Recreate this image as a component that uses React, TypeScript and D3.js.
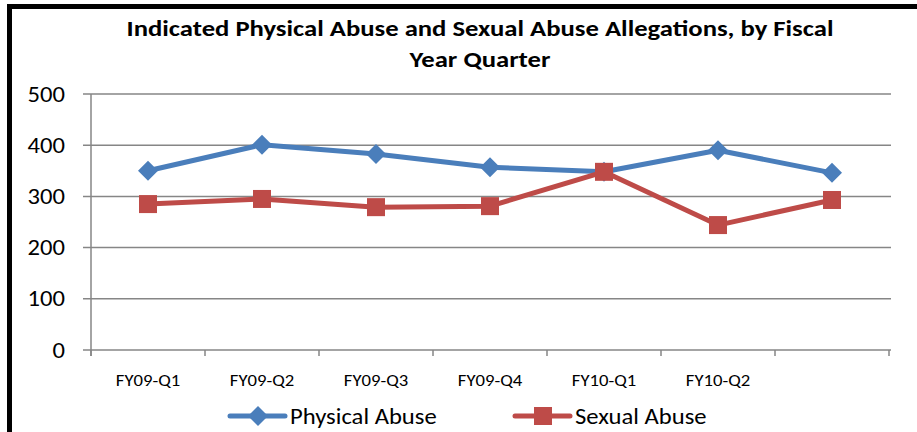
import React, { useEffect, useRef } from "react";
import * as d3 from "d3";

const categories = ["FY09-Q1", "FY09-Q2", "FY09-Q3", "FY09-Q4", "FY10-Q1", "FY10-Q2", ""];
const physicalAbuse = [350, 401, 383, 357, 348, 390, 346];
const sexualAbuse = [285, 295, 279, 281, 348, 244, 293];
const yTicks = [0, 100, 200, 300, 400, 500];
const titleLines = ["Indicated Physical Abuse and Sexual Abuse Allegations, by Fiscal", "Year Quarter"];

const FONT = "Carlito, Calibri, 'Open Sans', sans-serif";

const App = () => {
    const ref = useRef<SVGSVGElement>(null);

    useEffect(() => {
        const svg = d3.select(ref.current);
        svg.selectAll("*").remove();

        const width = 917;
        const height = 432;
        const left = 91;
        const right = 889;
        const top = 94;
        const bottom = 350;

        // text is a bit wider than the font, so stretch horizontally
        const label = (tx: number, ty: number, txt: string, size: number, sx: number, anchor: string, bold = false) =>
            svg.append("text")
                .attr("transform", `translate(${tx},${ty}) scale(${sx},1)`)
                .attr("text-anchor", anchor)
                .style("font-family", FONT)
                .style("font-weight", bold ? "bold" : "normal")
                .style("font-size", size + "px")
                .style("fill", "#000")
                .text(txt);

        svg.append("rect").attr("width", width).attr("height", height).attr("fill", "#fff");

        // frame (only left + top visible)
        svg.append("path")
            .attr("d", `M9.5,${height} V6.5 H${width}`)
            .attr("fill", "none")
            .attr("stroke", "#000")
            .attr("stroke-width", 5);

        titleLines.forEach((t, i) => label(480, 36 + i * 31, t, 23, 1.16, "middle", true));

        const x = d3.scaleBand().domain(categories.map((c, i) => String(i))).range([left, right]);
        const y = d3.scaleLinear().domain([0, 500]).range([bottom, top]);

        // gridlines + y ticks
        yTicks.forEach(v => {
            svg.append("line")
                .attr("x1", left - 8).attr("x2", right + 2)
                .attr("y1", y(v)).attr("y2", y(v))
                .attr("stroke", "#868686").attr("stroke-width", 1.5);
            label(65, y(v) + 7.5, String(v), 22, 1.12, "end");
        });

        svg.append("line")
            .attr("x1", left).attr("x2", left)
            .attr("y1", top).attr("y2", bottom + 6)
            .attr("stroke", "#868686").attr("stroke-width", 1.5);

        const bounds = categories.map((c, i) => x(String(i)) as number).concat([right]);
        bounds.forEach(b => {
            svg.append("line")
                .attr("x1", b).attr("x2", b)
                .attr("y1", bottom).attr("y2", bottom + 6)
                .attr("stroke", "#868686").attr("stroke-width", 1.5);
        });

        const cx = (i: number) => (x(String(i)) as number) + x.bandwidth() / 2;

        categories.forEach((c, i) => label(cx(i), 386, c, 17, 1.1, "middle"));

        const line = d3.line<number>().x((d, i) => cx(i)).y(d => y(d));

        const series = [
            { name: "Physical Abuse", data: physicalAbuse, color: "#4a7ebb", shape: "diamond" },
            { name: "Sexual Abuse", data: sexualAbuse, color: "#be4b48", shape: "square" },
        ];

        const marker = (shape: string, color: string, px: number, py: number) => {
            if (shape === "diamond") {
                svg.append("path")
                    .attr("d", `M${px},${py - 10} L${px + 10},${py} L${px},${py + 10} L${px - 10},${py} Z`)
                    .attr("fill", color);
            } else {
                svg.append("rect")
                    .attr("x", px - 9).attr("y", py - 9)
                    .attr("width", 18).attr("height", 18)
                    .attr("fill", color);
            }
        };

        series.forEach(s => {
            svg.append("path")
                .attr("d", line(s.data))
                .attr("fill", "none")
                .attr("stroke", s.color)
                .attr("stroke-width", 5)
                .attr("stroke-linejoin", "round");
            s.data.forEach((d, i) => marker(s.shape, s.color, cx(i), y(d)));
        });

        // legend
        const legendX = [230, 515];
        series.forEach((s, i) => {
            const lx = legendX[i];
            svg.append("line")
                .attr("x1", lx).attr("x2", lx + 55)
                .attr("y1", 416).attr("y2", 416)
                .attr("stroke", s.color).attr("stroke-width", 5)
                .attr("stroke-linecap", "round");
            marker(s.shape, s.color, lx + 28, 416);
            label(lx + 60, 424, s.name, 22, 1.12, "start");
        });
    }, []);

    return <svg ref={ref} width={917} height={432} style={{ display: "block", position: "absolute", left: 0, top: 0 }} />;
};

export default App;
